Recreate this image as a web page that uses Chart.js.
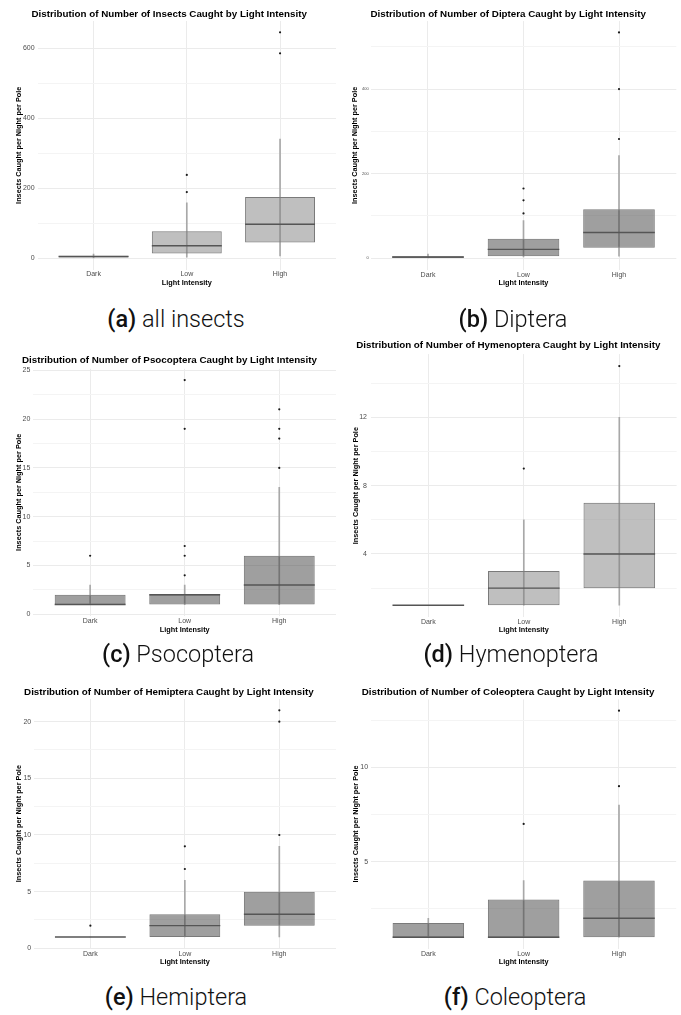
<!DOCTYPE html>
<html><head><meta charset="utf-8">
<script src="https://cdn.jsdelivr.net/npm/chart.js@4.4.0/dist/chart.umd.min.js"></script>
<style>
html,body{margin:0;padding:0;background:#fff;}
#wrap{position:relative;width:681px;height:1015px;overflow:hidden;background:#fff;}
canvas{position:absolute;}
.cap{position:absolute;font-family:Roboto,"Open Sans",sans-serif;font-weight:300;font-size:23.5px;color:#111;white-space:nowrap;transform:translate(-50%,-50%);line-height:1;z-index:5;}
.cap b{font-weight:500;}
</style></head><body><div id="wrap"></div>
<script>
// ---------- DATA ----------
const categories = ['Dark', 'Low', 'High'];

// (a) all insects
const allLower   = [0, 3, 7];
const allQ1      = [2, 14, 45];
const allMedian  = [5, 36, 97];
const allQ3      = [7, 77, 175];
const allUpper   = [12, 158, 340];
const allOutliers = [[], [189, 238], [585, 645]];
const allTicks   = [0, 200, 400, 600];
const allMinor   = [100, 300, 500];

// (b) Diptera
const dipLower   = [0, 3, 5];
const dipQ1      = [1, 5, 25];
const dipMedian  = [3, 21, 61];
const dipQ3      = [5, 46, 116];
const dipUpper   = [10, 89, 243];
const dipOutliers = [[], [106, 137, 165], [282, 400, 534]];
const dipTicks   = [0, 200, 400];
const dipMinor   = [100, 300, 500];

// (c) Psocoptera
const psoLower   = [1, 1, 1];
const psoQ1      = [1, 1, 1];
const psoMedian  = [1, 2, 3];
const psoQ3      = [2, 2, 6];
const psoUpper   = [3, 3, 13];
const psoOutliers = [[6], [4, 6, 7, 19, 24], [15, 18, 19, 21]];
const psoTicks   = [0, 5, 10, 15, 20, 25];
const psoMinor   = [2.5, 7.5, 12.5, 17.5, 22.5];

// (d) Hymenoptera
const hymLower   = [1, 1, 1];
const hymQ1      = [1, 1, 2];
const hymMedian  = [1, 2, 4];
const hymQ3      = [1, 3, 7];
const hymUpper   = [1, 6, 12];
const hymOutliers = [[], [9], [15]];
const hymTicks   = [4, 8, 12];
const hymMinor   = [2, 6, 10, 14];

// (e) Hemiptera
const hemLower   = [1, 1, 1];
const hemQ1      = [1, 1, 2];
const hemMedian  = [1, 2, 3];
const hemQ3      = [1, 3, 5];
const hemUpper   = [1, 6, 9];
const hemOutliers = [[2], [7, 9], [10, 20, 21]];
const hemTicks   = [0, 5, 10, 15, 20];
const hemMinor   = [2.5, 7.5, 12.5, 17.5];

// (f) Coleoptera
const colLower   = [1, 1, 1];
const colQ1      = [1, 1, 1];
const colMedian  = [1, 1, 2];
const colQ3      = [1.75, 3, 4];
const colUpper   = [2, 4, 8];
const colOutliers = [[], [7], [9, 13]];
const colTicks   = [5, 10];
const colMinor   = [2.5, 7.5, 12.5];

const titles = [
  'Distribution of Number of Insects Caught by Light Intensity',
  'Distribution of Number of Diptera Caught by Light Intensity',
  'Distribution of Number of Psocoptera Caught by Light Intensity',
  'Distribution of Number of Hymenoptera Caught by Light Intensity',
  'Distribution of Number of Hemiptera Caught by Light Intensity',
  'Distribution of Number of Coleoptera Caught by Light Intensity'
];
const captionLetters = ['(a)', '(b)', '(c)', '(d)', '(e)', '(f)'];
const captionNames = ['all insects', 'Diptera', 'Psocoptera', 'Hymenoptera', 'Hemiptera', 'Coleoptera'];
const yTitle = 'Insects Caught per Night per Pole';
const xTitle = 'Light Intensity';

// ---------- LAYOUT / STYLE ----------
const LIGHT = 'rgba(128,128,128,0.5)';
const DARK = 'rgba(64,64,64,0.5)';
const panels = [
  {d:[allLower,allQ1,allMedian,allQ3,allUpper,allOutliers,allTicks,allMinor], fill:LIGHT,
   canvas:[0,0,340,295], area:[37.6,21,338.4,269.6], titleY:14, yTitleX:19, tickPad:3, yTickSize:7, xLabelY:274.5, xTitleY:282.7, cap:[176,320]},
  {d:[dipLower,dipQ1,dipMedian,dipQ3,dipUpper,dipOutliers,dipTicks,dipMinor], fill:DARK,
   canvas:[340,0,341,295], area:[370.7,21.1,676.3,269.6], titleY:14, yTitleX:355, tickPad:2, yTickSize:4, xLabelY:275, xTitleY:283, cap:[513,320]},
  {d:[psoLower,psoQ1,psoMedian,psoQ3,psoUpper,psoOutliers,psoTicks,psoMinor], fill:DARK,
   canvas:[0,340,340,305], area:[33.4,368.8,339,615.8], titleY:360, yTitleX:19.3, tickPad:3, yTickSize:7, xLabelY:621, xTitleY:629.5, cap:[178,655]},
  {d:[hymLower,hymQ1,hymMedian,hymQ3,hymUpper,hymOutliers,hymTicks,hymMinor], fill:LIGHT,
   canvas:[340,330,341,310], area:[371,354.1,676.6,617.2], titleY:345.7, yTitleX:356, tickPad:4, yTickSize:7, xLabelY:621.7, xTitleY:629.5, cap:[511,655]},
  {d:[hemLower,hemQ1,hemMedian,hemQ3,hemUpper,hemOutliers,hemTicks,hemMinor], fill:DARK,
   canvas:[0,680,340,290], area:[33.7,699,337.7,948.3], titleY:692.3, yTitleX:19.3, tickPad:2.5, yTickSize:7, xLabelY:954, xTitleY:961.7, cap:[176,998]},
  {d:[colLower,colQ1,colMedian,colQ3,colUpper,colOutliers,colTicks,colMinor], fill:DARK,
   canvas:[340,680,341,290], area:[371.1,699.4,676.2,948.5], titleY:692.3, yTitleX:356, tickPad:3, yTickSize:7, xLabelY:954, xTitleY:961.7, cap:[515,998]}
];

const FAM = '"Liberation Sans", Arial, sans-serif';
const TITLE_SIZE = 9.8, YT_SIZE = 7.3, XT_SIZE = 7.3, XTICK_SIZE = 7;
const wrap = document.getElementById('wrap');

panels.forEach((p, idx) => {
  const [lower, q1, median, q3, upper, outliers, majors, minors] = p.d;
  const [cx, cy, W, H] = p.canvas;
  const aL = p.area[0]-cx, aT = p.area[1]-cy, aR = p.area[2]-cx, aB = p.area[3]-cy;
  const lhT = TITLE_SIZE*1.2, lhY = YT_SIZE*1.2, lhX = XT_SIZE*1.2, lhTick = XTICK_SIZE*1.2;
  const tPadTop = (p.titleY-cy) - lhT/2;
  const tPadBot = aT - (p.titleY-cy) - lhT/2;
  const xAxisH = (p.xTitleY-cy) + lhX/2 - aB;
  const padBottom = H - aB - xAxisH;
  const xTickPad = (p.xLabelY-cy) - aB - lhTick/2;
  const yTitlePad = (p.yTitleX-cx) - lhY/2;

  const allVals = lower.concat(upper, outliers.flat());
  const lo = Math.min(...allVals), hi = Math.max(...allVals);
  const ex = (hi-lo)*0.05;
  const yMin = lo-ex, yMax = hi+ex;
  const tickVals = majors.concat(minors).filter(v => v >= yMin && v <= yMax).sort((a,b)=>a-b);

  const c = document.createElement('canvas');
  c.width = W; c.height = H;
  c.style.left = cx+'px'; c.style.top = cy+'px';
  c.style.width = W+'px'; c.style.height = H+'px';
  wrap.appendChild(c);

  const halfBox = ctx => {
    const s = ctx.chart.scales.x;
    return Math.abs(s.getPixelForValue(1.375) - s.getPixelForValue(1));
  };

  new Chart(c, {
    type: 'bar',
    data: {
      datasets: [
        {type:'line', label:'outliers', data: outliers.flatMap((arr,i)=>arr.map(v=>({x:i+1, y:v}))),
         showLine:false, pointRadius:1.1, pointBackgroundColor:'#1a1a1a', pointBorderWidth:0, order:0},
        {type:'line', label:'median', data: median.map((v,i)=>({x:i+1, y:v})),
         showLine:false, pointStyle:'line', pointRadius: halfBox, pointBorderColor:'#555555', pointBorderWidth:1.4, order:1},
        {type:'bar', label:'box', data: q1.map((v,i)=>({x:i+1, y:[v, q3[i]]})),
         backgroundColor:p.fill, borderColor:'#7a7a7a', borderWidth:1, borderSkipped:false,
         barPercentage:0.75, categoryPercentage:1, grouped:false, order:2},
        {type:'bar', label:'whisker', data: lower.map((v,i)=>({x:i+1, y:[v, upper[i]]})),
         backgroundColor:'#a8a8a8', barThickness:1, grouped:false, order:3}
      ]
    },
    options: {
      responsive:false, animation:false, events:[],
      layout:{padding:{left:0, top:0, right:W-aR, bottom:padBottom}},
      plugins:{
        legend:{display:false}, tooltip:{enabled:false},
        title:{display:true, text:titles[idx], color:'#000',
               font:{family:FAM, size:TITLE_SIZE, weight:'bold', lineHeight:1.2},
               padding:{top:tPadTop, bottom:tPadBot}}
      },
      scales:{
        x:{type:'linear', min:0.4, max:3.6, offset:false,
           afterBuildTicks: s => { s.ticks = categories.map((c,i)=>({value:i+1})); },
           afterFit: s => { s.height = xAxisH; },
           ticks:{callback: v => categories[Math.round(v)-1] || '', color:'#4d4d4d', autoSkip:false, maxRotation:0,
                  font:{family:FAM, size:XTICK_SIZE, lineHeight:1.2}, padding:xTickPad},
           grid:{color:'#ebebeb', lineWidth:1, drawTicks:false, offset:false},
           border:{display:false},
           title:{display:true, text:xTitle, color:'#000', font:{family:FAM, size:XT_SIZE, weight:'bold', lineHeight:1.2}, padding:{top:0, bottom:0}}
        },
        y:{type:'linear', min:yMin, max:yMax,
           afterBuildTicks: s => { s.ticks = tickVals.map(v=>({value:v})); },
           afterFit: s => { s.width = aL; },
           ticks:{callback: v => majors.includes(v) ? String(v) : '', color:'#4d4d4d',
                  font:{family:FAM, size:p.yTickSize, lineHeight:1.2}, padding:p.tickPad},
           grid:{color: ctx => (ctx.tick && majors.includes(ctx.tick.value)) ? '#ebebeb' : '#f4f4f4', lineWidth:1, drawTicks:false},
           border:{display:false},
           title:{display:true, text:yTitle, color:'#000', font:{family:FAM, size:YT_SIZE, weight:'bold', lineHeight:1.2}, padding:{top:yTitlePad, bottom:0}}
        }
      }
    }
  });

  const cap = document.createElement('div');
  cap.className = 'cap';
  cap.style.left = p.cap[0]+'px'; cap.style.top = p.cap[1]+'px';
  const b = document.createElement('b'); b.textContent = captionLetters[idx];
  cap.appendChild(b);
  cap.appendChild(document.createTextNode(' ' + captionNames[idx]));
  wrap.appendChild(cap);
});
</script></body></html>
